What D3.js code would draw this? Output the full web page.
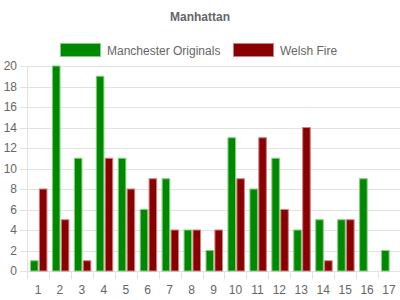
<!DOCTYPE html>
<html>
<head>
<meta charset="utf-8">
<script src="https://cdn.jsdelivr.net/npm/d3@7"></script>
<style>
body { margin: 0; background: #fff; }
text { font-family: "Liberation Sans", Arial, sans-serif; fill: #666; }
</style>
</head>
<body>
<svg width="400" height="300"></svg>
<script>
var overs = ["1","2","3","4","5","6","7","8","9","10","11","12","13","14","15","16","17"];
var manchester = [1,20,11,19,11,6,9,4,2,13,8,11,4,5,5,9,2];
var welsh = [8,5,1,11,8,9,4,4,4,9,13,6,14,1,5,0,0];
var seriesNames = ["Manchester Originals", "Welsh Fire"];
var yTicks = [0,2,4,6,8,10,12,14,16,18,20];

var fills = ["#008800", "#880000"];
var strokes = ["#7fd07f", "#d08080"];

var svg = d3.select("svg");
var plotL = 27, plotR = 400, plotT = 66, plotB = 271;

var x = d3.scaleBand().domain(overs).range([plotL, plotR]);
var y = d3.scaleLinear().domain([0, 20]).range([plotB, plotT]);

svg.append("text").attr("x", 200).attr("y", 21)
  .attr("text-anchor", "middle").style("font-size", "12px").style("font-weight", "bold")
  .text("Manhattan");

// legend
var leg = [{x: 60, name: seriesNames[0]}, {x: 233, name: seriesNames[1]}];
leg.forEach(function(l, i) {
  svg.append("rect").attr("x", l.x + 0.5).attr("y", 43.5).attr("width", 40).attr("height", 13)
    .attr("fill", fills[i]).attr("stroke", strokes[i]);
  svg.append("text").attr("x", l.x + 47).attr("y", 54.5).style("font-size", "12px").text(l.name);
});

// grid
svg.selectAll(".grid").data(yTicks).enter().append("line")
  .attr("x1", 20).attr("x2", plotR)
  .attr("y1", function(d) { return Math.round(y(d)) + 0.5; })
  .attr("y2", function(d) { return Math.round(y(d)) + 0.5; })
  .attr("stroke", "#e2e2e2");
svg.append("line").attr("x1", plotL + 0.5).attr("x2", plotL + 0.5).attr("y1", plotT).attr("y2", plotB + 8)
  .attr("stroke", "#e2e2e2");

svg.selectAll(".ylab").data(yTicks).enter().append("text")
  .attr("x", 17).attr("y", function(d) { return y(d) + 4; })
  .attr("text-anchor", "end").style("font-size", "12px")
  .text(function(d) { return d; });

// x ticks
svg.selectAll(".xt").data(overs.slice(1)).enter().append("line")
  .attr("x1", function(d) { return Math.round(x(d)) + 0.5; })
  .attr("x2", function(d) { return Math.round(x(d)) + 0.5; })
  .attr("y1", plotB).attr("y2", plotB + 8)
  .attr("stroke", "#e2e2e2");
svg.selectAll(".xlab").data(overs).enter().append("text")
  .attr("x", function(d) { return x(d) + x.bandwidth() / 2; })
  .attr("y", 294).attr("text-anchor", "middle").style("font-size", "12px")
  .text(function(d) { return d; });

var inner = d3.scaleBand().domain([0, 1]).range([3.5, x.bandwidth() - 2]).paddingInner(0.15);

[manchester, welsh].forEach(function(vals, s) {
  var rows = vals.map(function(v, i) { return {over: overs[i], v: v}; })
    .filter(function(d) { return d.v > 0; });
  svg.selectAll(".b" + s).data(rows).enter().append("rect")
    .attr("x", function(d) { return x(d.over) + inner(s); })
    .attr("y", function(d) { return y(d.v); })
    .attr("width", inner.bandwidth())
    .attr("height", function(d) { return plotB - y(d.v); })
    .attr("fill", fills[s]).attr("stroke", strokes[s]).attr("stroke-width", 1);
});
</script>
</body>
</html>
